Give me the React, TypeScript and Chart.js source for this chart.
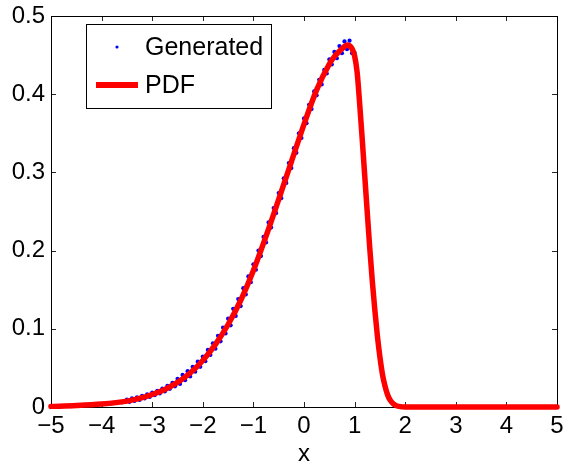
import React, { useEffect, useRef } from 'react';
import { Chart, registerables } from 'chart.js';

Chart.register(...registerables);

const FONT = "'Liberation Sans', Arial, Helvetica, sans-serif";

const seriesLabels = ['Generated', 'PDF'];
const xTicks = [-5, -4, -3, -2, -1, 0, 1, 2, 3, 4, 5];
const yTicks = [0, 0.1, 0.2, 0.3, 0.4, 0.5];
const xTitle = 'x';

const pdfX = [-5, -4.5, -4, -3.5, -3.25, -3, -2.75, -2.5, -2.25, -2, -1.75, -1.5, -1.25, -1, -0.75, -0.5, -0.25, 0, 0.25, 0.5, 0.6, 0.7, 0.8, 0.85, 0.9, 0.95, 1.0, 1.05, 1.1, 1.15, 1.2, 1.25, 1.3, 1.35, 1.4, 1.45, 1.5, 1.55, 1.6, 1.65, 1.7, 1.75, 1.8, 1.9, 2.0, 2.5, 3, 4, 5];
const pdfY = [0.0008, 0.0018, 0.0037, 0.0075, 0.011, 0.016, 0.0225, 0.0315, 0.0435, 0.0595, 0.080, 0.1055, 0.1365, 0.1745, 0.2185, 0.2655, 0.3135, 0.3615, 0.4055, 0.4385, 0.448, 0.455, 0.461, 0.463, 0.462, 0.458, 0.449, 0.428, 0.388, 0.343, 0.296, 0.249, 0.203, 0.161, 0.124, 0.091, 0.064, 0.042, 0.027, 0.016, 0.009, 0.005, 0.0025, 0.0005, 0, 0, 0, 0, 0];

const genX = [
  -5.0, -4.9, -4.8, -4.7, -4.6, -4.5, -4.4, -4.3, -4.2, -4.1, -4.0, -3.9, -3.8, -3.7, -3.6,
  -3.5, -3.45, -3.4, -3.35, -3.3, -3.25, -3.2, -3.15, -3.1, -3.05, -3.0, -2.95, -2.9, -2.85, -2.8, -2.75, -2.7, -2.65, -2.6, -2.55,
  -2.5, -2.45, -2.4, -2.35, -2.3, -2.25, -2.2, -2.15, -2.1, -2.05, -2.0, -1.95, -1.9, -1.85, -1.8, -1.75, -1.7, -1.65, -1.6, -1.55,
  -1.5, -1.45, -1.4, -1.35, -1.3, -1.25, -1.2, -1.15, -1.1, -1.05, -1.0, -0.95, -0.9, -0.85, -0.8, -0.75, -0.7, -0.65, -0.6, -0.55,
  -0.5, -0.45, -0.4, -0.35, -0.3, -0.25, -0.2, -0.15, -0.1, -0.05, 0.0, 0.05, 0.1, 0.15, 0.2, 0.25, 0.3, 0.35, 0.4, 0.45,
  0.5, 0.55, 0.6, 0.65, 0.7, 0.75, 0.8, 0.85, 0.9, 0.95, 1.0,
  1.05, 1.1, 1.15, 1.2, 1.25, 1.3, 1.35, 1.4, 1.45, 1.5, 1.55, 1.6, 1.65, 1.7, 1.75, 1.8, 1.85, 1.9, 1.95, 2.0,
  2.1, 2.2, 2.3, 2.4, 2.5, 2.6, 2.7, 2.8, 2.9, 3.0, 3.1, 3.2, 3.3, 3.4, 3.5, 3.6, 3.7, 3.8, 3.9, 4.0,
  4.1, 4.2, 4.3, 4.4, 4.5, 4.6, 4.7, 4.8, 4.9, 5.0,
];
const genY = [
  0.0006, 0.0010, 0.0009, 0.0013, 0.0012, 0.0019, 0.0017, 0.0025, 0.0024, 0.0034, 0.0033, 0.0046, 0.0045, 0.0062, 0.0060,
  0.0095, 0.0064, 0.0110, 0.0078, 0.0124, 0.0090, 0.0142, 0.0110, 0.0162, 0.0128, 0.0183, 0.0150, 0.0208, 0.0174, 0.0236, 0.0198, 0.0270, 0.0232, 0.0308, 0.0264,
  0.0360, 0.0295, 0.0410, 0.0343, 0.0458, 0.0390, 0.0514, 0.0452, 0.0580, 0.0514, 0.0645, 0.0585, 0.0730, 0.0665, 0.0815, 0.0745, 0.0910, 0.0840, 0.1015, 0.0940,
  0.1130, 0.1045, 0.1255, 0.1165, 0.1380, 0.1290, 0.1520, 0.1440, 0.1670, 0.1595, 0.1825, 0.1755, 0.2000, 0.1930, 0.2175, 0.2105, 0.2360, 0.2295, 0.2545, 0.2480,
  0.2735, 0.2670, 0.2925, 0.2865, 0.3120, 0.3055, 0.3310, 0.3250, 0.3500, 0.3440, 0.3690, 0.3630, 0.3865, 0.3810, 0.4035, 0.3985, 0.4185, 0.4125, 0.4310, 0.4265,
  0.4445, 0.4380, 0.4540, 0.4460, 0.4615, 0.4525, 0.4675, 0.4575, 0.4685, 0.4525, 0.4530,
  0.428, 0.389, 0.344, 0.295, 0.250, 0.202, 0.162, 0.123, 0.092, 0.063, 0.043, 0.026, 0.016, 0.009, 0.005, 0.003, 0.001, 0.001, 0.000, 0.000,
  0, 0, 0, 0, 0, 0, 0, 0, 0, 0, 0, 0, 0, 0, 0, 0, 0, 0, 0, 0,
  0, 0, 0, 0, 0, 0, 0, 0, 0, 0,
];

const BLUE = '#0000ff';
const RED = '#ff0000';

const framePlugin = {
  id: 'matlabFrame',
  beforeDatasetsDraw(chart: any) {
    const { ctx, chartArea: a, scales } = chart;
    ctx.save();
    ctx.lineWidth = 1;
    ctx.strokeStyle = '#262626';
    ctx.beginPath();
    for (const v of xTicks) {
      const px = Math.round(scales.x.getPixelForValue(v)) + 0.5;
      ctx.moveTo(px, a.bottom);
      ctx.lineTo(px, a.bottom - 5);
      ctx.moveTo(px, a.top);
      ctx.lineTo(px, a.top + 5);
    }
    for (const v of yTicks) {
      const py = Math.round(scales.y.getPixelForValue(v)) + 0.5;
      ctx.moveTo(a.left, py);
      ctx.lineTo(a.left + 5, py);
      ctx.moveTo(a.right, py);
      ctx.lineTo(a.right - 5, py);
    }
    ctx.stroke();
    ctx.strokeStyle = '#000';
    ctx.strokeRect(Math.round(a.left) + 0.5, Math.round(a.top) + 0.5, Math.round(a.right - a.left), Math.round(a.bottom - a.top));
    ctx.restore();
  },
};

const legendPlugin = {
  id: 'boxLegend',
  afterDraw(chart: any) {
    const { ctx, chartArea: a } = chart;
    const bx = a.left + 35;
    const by = a.top + 8;
    const bw = 185;
    const bh = 84;
    ctx.save();
    ctx.fillStyle = '#fff';
    ctx.fillRect(bx, by, bw, bh);
    ctx.strokeStyle = '#000';
    ctx.lineWidth = 1;
    ctx.strokeRect(bx + 0.5, by + 0.5, bw, bh);
    ctx.font = `25px ${FONT}`;
    ctx.textBaseline = 'middle';
    const y1 = by + 23;
    ctx.fillStyle = BLUE;
    ctx.beginPath();
    ctx.arc(bx + 31, y1, 1.6, 0, Math.PI * 2);
    ctx.fill();
    ctx.fillStyle = '#000';
    ctx.fillText(chart.data.datasets[0].label, bx + 59, y1 + 1);
    const y2 = by + 61;
    ctx.strokeStyle = RED;
    ctx.lineWidth = 6;
    ctx.beginPath();
    ctx.moveTo(bx + 10, y2);
    ctx.lineTo(bx + 52, y2);
    ctx.stroke();
    ctx.fillText(chart.data.datasets[1].label, bx + 59, y2 + 1);
    ctx.restore();
  },
};

const fmtX = (v: number) => (v < 0 ? '\u2212' + Math.abs(v) : String(v));
const fmtY = (v: number) => String(Number(v.toFixed(1)));

export default function App() {
  const ref = useRef<HTMLCanvasElement | null>(null);

  useEffect(() => {
    document.body.style.margin = '0';
    const canvas = ref.current;
    if (!canvas) return;
    const chart = new Chart(canvas, {
      type: 'scatter',
      data: {
        datasets: [
          {
            label: seriesLabels[0],
            data: genX.map((x, i) => ({ x, y: genY[i] })),
            showLine: false,
            pointRadius: 2.1,
            pointHoverRadius: 2.1,
            pointBackgroundColor: BLUE,
            pointBorderWidth: 0,
            borderColor: BLUE,
            backgroundColor: BLUE,
            clip: false,
            order: 1,
          },
          {
            label: seriesLabels[1],
            data: pdfX.map((x, i) => ({ x, y: pdfY[i] })),
            showLine: true,
            borderColor: RED,
            backgroundColor: RED,
            borderWidth: 5.5,
            pointRadius: 0,
            cubicInterpolationMode: 'monotone',
            borderCapStyle: 'round',
            borderJoinStyle: 'round',
            clip: false,
            order: 0,
          },
        ],
      } as any,
      options: {
        responsive: false,
        animation: false,
        devicePixelRatio: 1,
        layout: { padding: { top: 16, right: 9, left: 0, bottom: 0 } },
        plugins: { legend: { display: false }, tooltip: { enabled: false } },
        scales: {
          x: {
            type: 'linear',
            min: -5,
            max: 5,
            afterBuildTicks: (s: any) => {
              s.ticks = xTicks.map((v) => ({ value: v }));
            },
            afterFit: (s: any) => {
              s.height = 60;
              s.paddingLeft = 0;
              s.paddingRight = 0;
            },
            grid: { display: false, drawTicks: false },
            border: { display: false },
            ticks: {
              color: '#000',
              font: { size: 24, family: FONT },
              padding: 5,
              maxRotation: 0,
              autoSkip: false,
              callback: (v: any) => fmtX(Number(v)),
            },
            title: {
              display: true,
              text: xTitle,
              color: '#000',
              font: { size: 24, family: FONT },
              padding: { top: 0, bottom: -2 },
            },
          },
          y: {
            type: 'linear',
            min: 0,
            max: 0.5,
            afterBuildTicks: (s: any) => {
              s.ticks = yTicks.map((v) => ({ value: v }));
            },
            afterFit: (s: any) => {
              s.width = 51;
              s.paddingTop = 0;
              s.paddingBottom = 0;
            },
            grid: { display: false, drawTicks: false },
            border: { display: false },
            ticks: {
              color: '#000',
              font: { size: 24, family: FONT },
              padding: 6,
              autoSkip: false,
              callback: (v: any) => fmtY(Number(v)),
            },
          },
        },
      } as any,
      plugins: [framePlugin, legendPlugin],
    });
    return () => chart.destroy();
  }, []);

  return (
    <div style={{ width: 566, height: 467 }}>
      <canvas ref={ref} width={566} height={467} style={{ display: 'block' }} />
    </div>
  );
}
